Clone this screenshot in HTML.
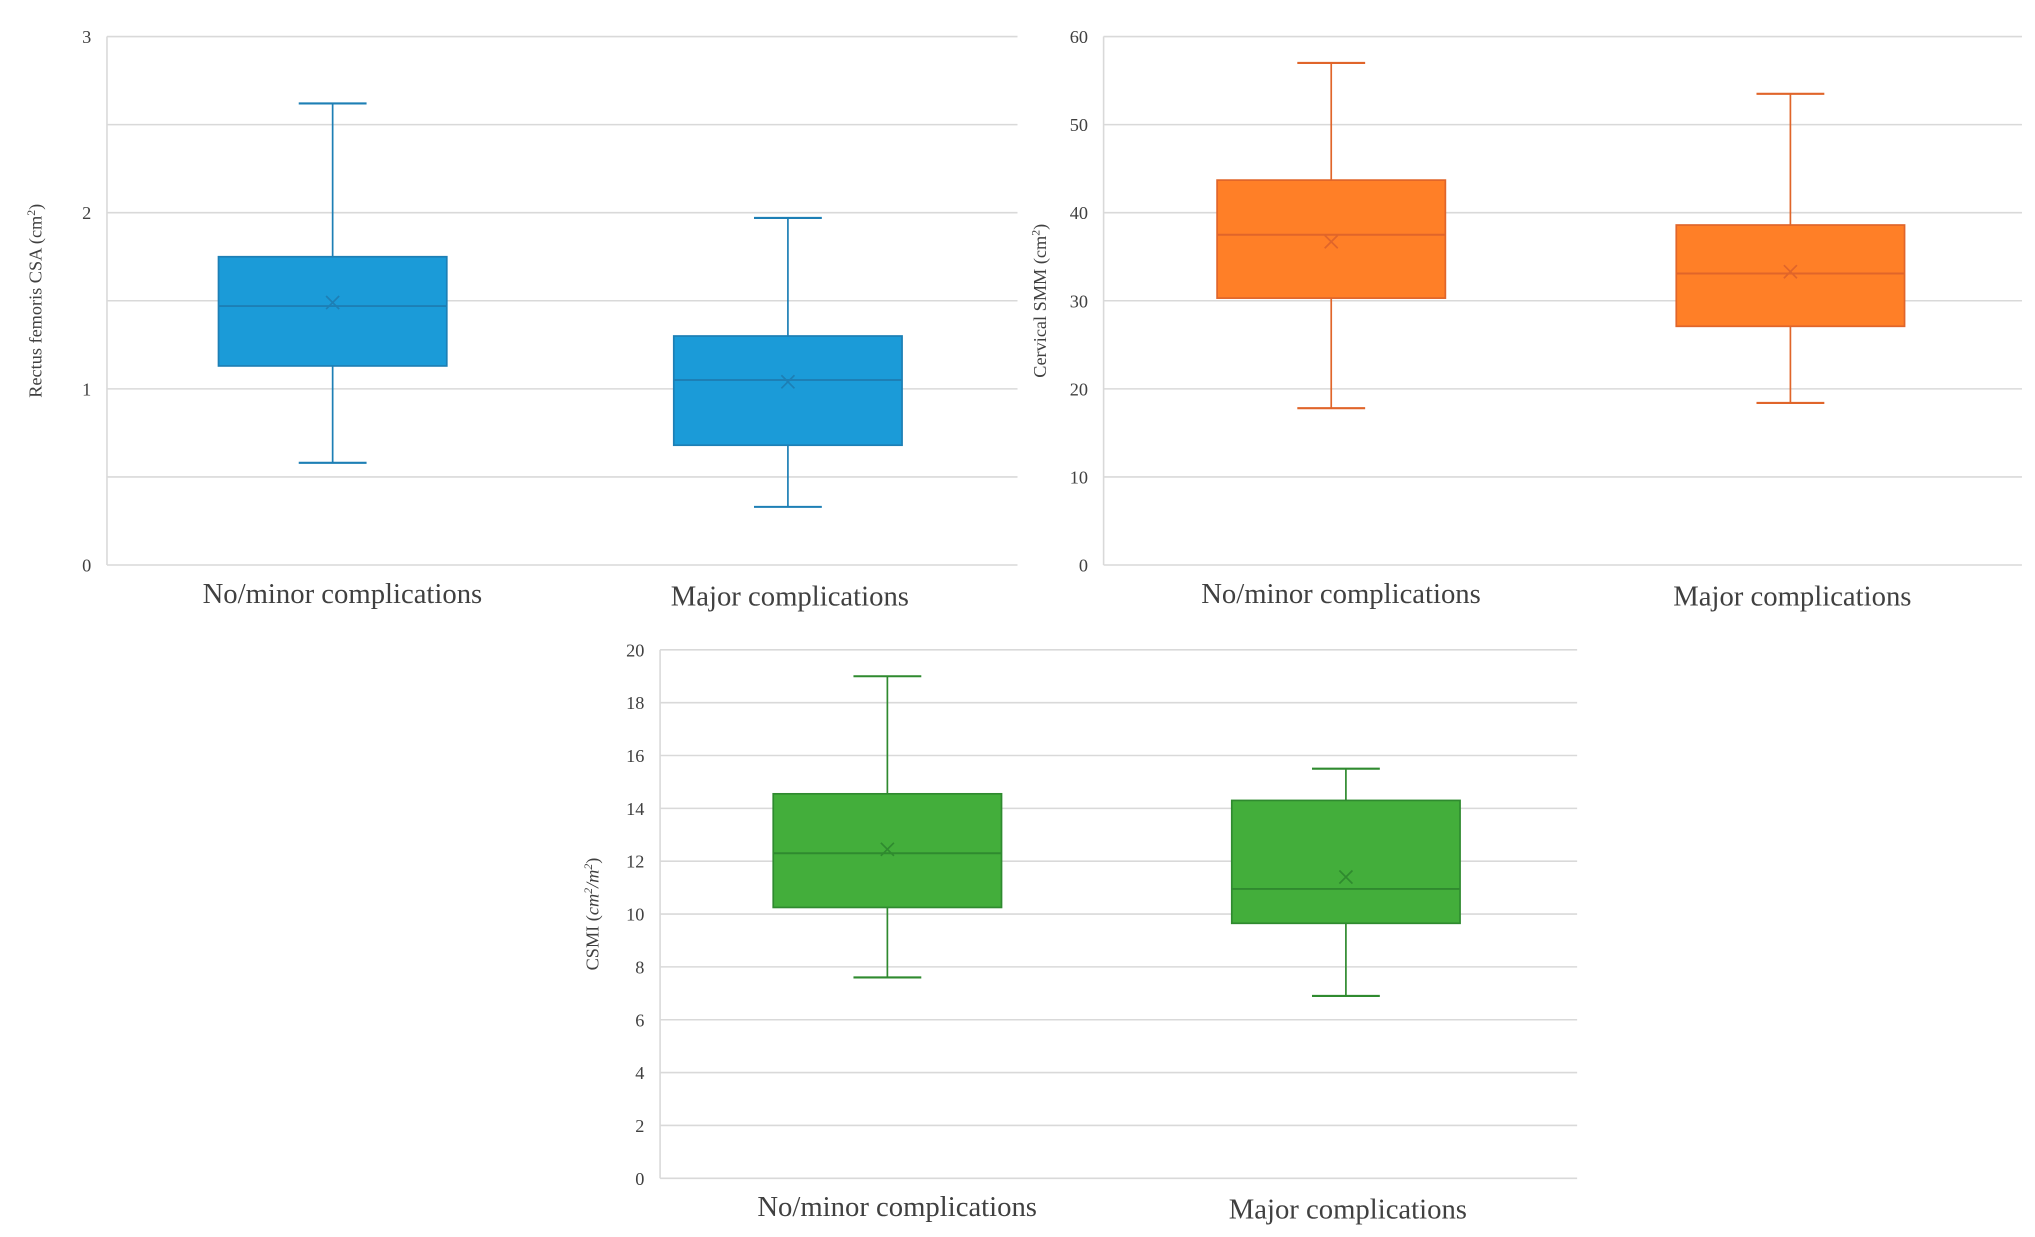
<!DOCTYPE html>
<html><head><meta charset="utf-8">
<style>
html,body{margin:0;padding:0;background:#fff;}
svg{display:block;}
text{font-family:"Liberation Serif",serif;fill:#404040;}
</style></head>
<body>
<svg id="fig" width="2035" height="1237" viewBox="0 0 1560 948" preserveAspectRatio="none" xmlns="http://www.w3.org/2000/svg"></svg>
<script>
const categories = ["No/minor complications", "Major complications"];
// chart 1: Rectus femoris CSA
const rfMax = [2.62, 1.97];
const rfQ3 = [1.75, 1.30];
const rfMedian = [1.47, 1.05];
const rfMean = [1.49, 1.04];
const rfQ1 = [1.13, 0.68];
const rfMin = [0.58, 0.33];
const rfTicks = [0, 1, 2, 3];
// chart 2: Cervical SMM
const smmMax = [57.0, 53.5];
const smmQ3 = [43.7, 38.6];
const smmMedian = [37.5, 33.1];
const smmMean = [36.7, 33.3];
const smmQ1 = [30.3, 27.1];
const smmMin = [17.8, 18.4];
const smmTicks = [0, 10, 20, 30, 40, 50, 60];
// chart 3: CSMI
const csmiMax = [19.0, 15.5];
const csmiQ3 = [14.55, 14.3];
const csmiMedian = [12.3, 10.95];
const csmiMean = [12.45, 11.4];
const csmiQ1 = [10.25, 9.65];
const csmiMin = [7.6, 6.9];
const csmiTicks = [0, 2, 4, 6, 8, 10, 12, 14, 16, 18, 20];

const NS = "http://www.w3.org/2000/svg";
const svg = document.getElementById("fig");
function mk(tag, attrs, parent) {
  const e = document.createElementNS(NS, tag);
  for (const k in attrs) e.setAttribute(k, attrs[k]);
  (parent || svg).appendChild(e);
  return e;
}

function drawChart(cfg) {
  const g = mk("g", {});
  
  
  const ymax = cfg.ticks[cfg.ticks.length - 1];
  const y = v => cfg.bottom - (v / ymax) * (cfg.bottom - cfg.top);
  const bandW = (cfg.right - cfg.left) / categories.length;
  const xc = i => cfg.left + bandW * (i + 0.5);
  const step = cfg.gridStep;
  for (let v = 0; v <= ymax + 1e-9; v += step) {
    const ln = mk("line", {x1: cfg.left, x2: cfg.right, y1: y(v), y2: y(v), stroke: "#d9d9d9", "stroke-width": 1.2}, g);
    
    
  }
  const ax = mk("line", {x1: cfg.left, x2: cfg.left, y1: cfg.top, y2: cfg.bottom, stroke: "#d9d9d9", "stroke-width": 1.2}, g);
  
  
  cfg.ticks.forEach(t => {
    const tx = mk("text", {x: cfg.left - 12, y: y(t) + 5, "text-anchor": "end", "font-size": 14}, g);
    tx.textContent = t;
    
    
  });
  const ty = (cfg.top + cfg.bottom) / 2;
  const tt = mk("text", {x: cfg.titleX, y: ty, "text-anchor": "middle", "font-size": 14, transform: `rotate(-90 ${cfg.titleX} ${ty})`, fill: "#262626"}, g);
  tt.innerHTML = cfg.title;
  
  
  const bw = 175, cap = 26;
  categories.forEach((c, i) => {
    const x = xc(i) - 1.5;
    const bg = mk("g", {}, g);
    
    
    const s = cfg.stroke;
    mk("line", {x1: x, x2: x, y1: y(cfg.max[i]), y2: y(cfg.q3[i]), stroke: s, "stroke-width": 1.3}, bg);
    mk("line", {x1: x, x2: x, y1: y(cfg.q1[i]), y2: y(cfg.min[i]), stroke: s, "stroke-width": 1.3}, bg);
    mk("line", {x1: x - cap, x2: x + cap, y1: y(cfg.max[i]), y2: y(cfg.max[i]), stroke: s, "stroke-width": 1.6}, bg);
    mk("line", {x1: x - cap, x2: x + cap, y1: y(cfg.min[i]), y2: y(cfg.min[i]), stroke: s, "stroke-width": 1.6}, bg);
    mk("rect", {x: x - bw / 2, y: y(cfg.q3[i]), width: bw, height: y(cfg.q1[i]) - y(cfg.q3[i]), fill: cfg.fill, stroke: s, "stroke-width": 1.3}, bg);
    mk("line", {x1: x - bw / 2, x2: x + bw / 2, y1: y(cfg.median[i]), y2: y(cfg.median[i]), stroke: s, "stroke-width": 1.5}, bg);
    const my = y(cfg.mean[i]), d = 5;
    mk("path", {d: `M${x - d} ${my - d}L${x + d} ${my + d}M${x - d} ${my + d}L${x + d} ${my - d}`, stroke: s, "stroke-width": 1.3, fill: "none"}, bg);
    const lab = mk("text", {x: xc(i) + (i === 0 ? 6 : 0), y: cfg.bottom + 29 + i * 2, "text-anchor": "middle", "font-size": 22, fill: "#262626"}, g);
    lab.textContent = c;
    
    
  });
}

drawChart({name: "rectus-femoris-chart", left: 82, right: 780, top: 28, bottom: 433, ticks: rfTicks, gridStep: 0.5,
  title: 'Rectus femoris CSA (cm<tspan font-size="9" dy="-5">2</tspan><tspan dy="5">)</tspan>', titleX: 32,
  max: rfMax, q3: rfQ3, median: rfMedian, mean: rfMean, q1: rfQ1, min: rfMin, fill: "#1b9bd8", stroke: "#1d7fb5"});
drawChart({name: "cervical-smm-chart", left: 846, right: 1550, top: 28, bottom: 433, ticks: smmTicks, gridStep: 10,
  title: 'Cervical SMM (cm<tspan font-size="9" dy="-5">2</tspan><tspan dy="5">)</tspan>', titleX: 802,
  max: smmMax, q3: smmQ3, median: smmMedian, mean: smmMean, q1: smmQ1, min: smmMin, fill: "#ff7f27", stroke: "#e0652a"});
drawChart({name: "csmi-chart", left: 506, right: 1209, top: 498, bottom: 903, ticks: csmiTicks, gridStep: 2,
  title: 'CSMI (<tspan font-style="italic">cm<tspan font-size="9" dy="-5">2</tspan><tspan dy="5">/m</tspan><tspan font-size="9" dy="-5">2</tspan></tspan><tspan dy="5">)</tspan>', titleX: 459,
  max: csmiMax, q3: csmiQ3, median: csmiMedian, mean: csmiMean, q1: csmiQ1, min: csmiMin, fill: "#43ae3b", stroke: "#2f8a2f"});
</script>
</body></html>
